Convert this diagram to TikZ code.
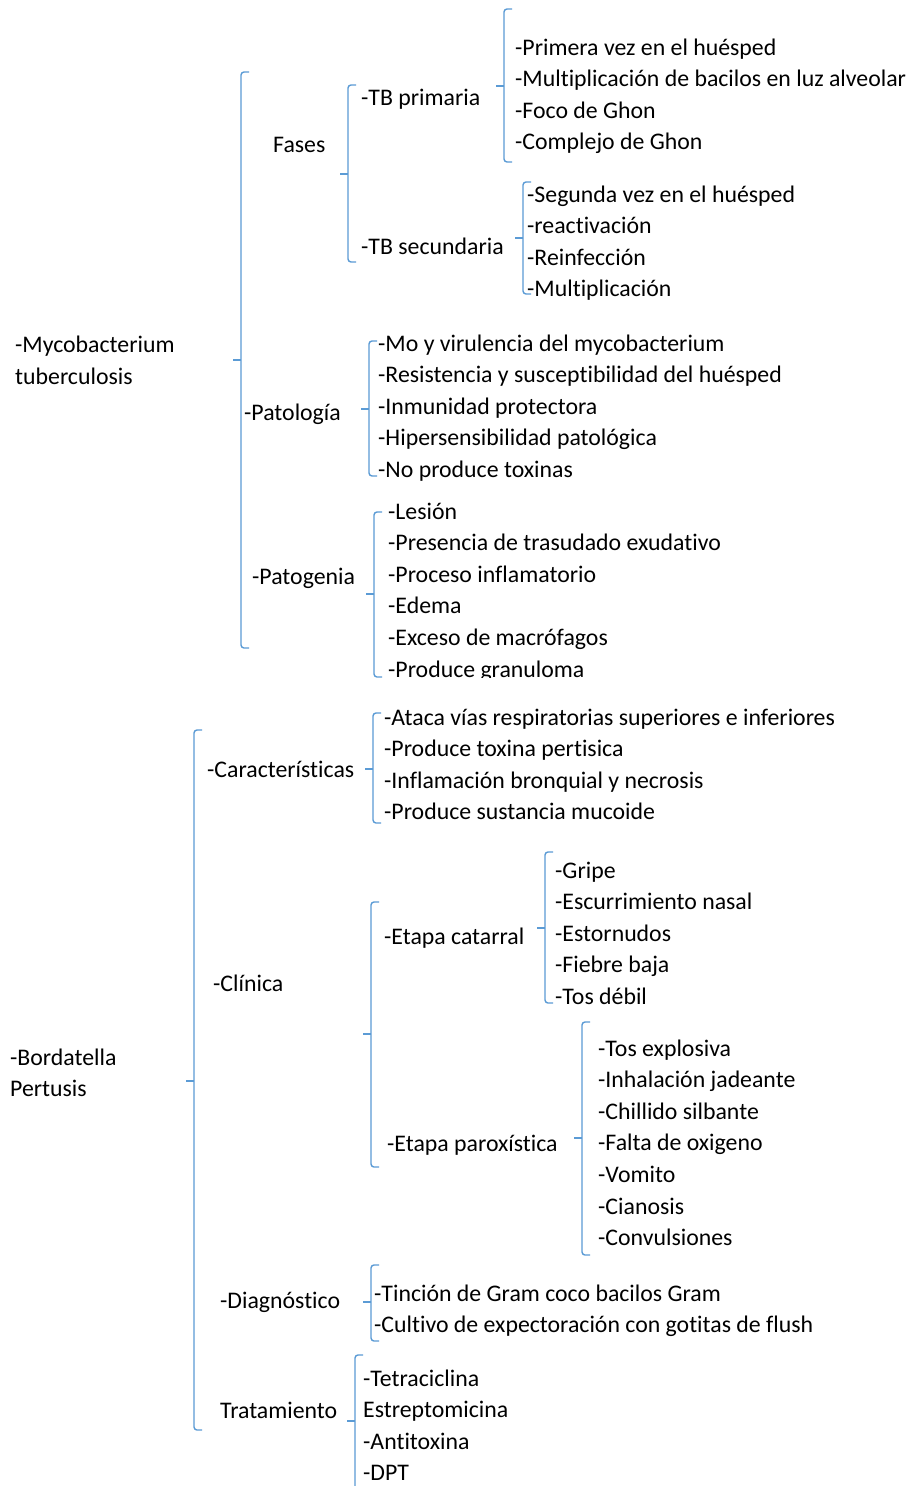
\documentclass[tikz,border=0pt]{standalone}
\usepackage{fontspec}
\setmainfont{Carlito}[Ligatures=NoCommon]
\definecolor{brblue}{HTML}{5B9BD5}
\tikzset{
  txt/.style={anchor=base west,inner sep=0pt,font=\fontsize{23.8}{31.6}\selectfont,text=black},
  br/.style={draw=brblue,line width=1.4pt,rounded corners=3pt},
  tk/.style={draw=brblue,line width=1.4pt},
}
% brace: name, x, top, mid, bottom
\newcommand\wbrace[5]{%
  \coordinate (#1top) at (#2,#3);
  \coordinate (#1mid) at (#2,#4);
  \coordinate (#1bot) at (#2,#5);
  \coordinate (#1tip) at ({#2-8},#4);
  \draw[br] ([xshift=8pt]#1top) -- (#1top) -- (#1bot) -- ([xshift=8pt]#1bot);
  \draw[tk] (#1mid) -- (#1tip);
}
% item list: name, x, first baseline, list
\newcommand\itemlist[4]{%
  \foreach \t [count=\i] in {#4}
    \node[txt] (#1\i) at (#2,{#3+(\i-1)*31.6}) {\t};
}
\begin{document}
\begin{tikzpicture}[x=1pt,y=-1pt]
\clip (0,0) rectangle (911,1486);
\fill[white] (0,0) rectangle (911,1486);

% ---------- Mycobacterium ----------
\node[txt] (myco1) at (15,352) {-Mycobacterium};
\node[txt] (myco2) at (15,384) {tuberculosis};
\wbrace{bA}{241}{72}{360}{648}

\node[txt] (fases) at (273,152) {Fases};
\wbrace{bB}{348}{85}{174}{262}
\node[txt] (tbp) at (361,105) {-TB primaria};
\node[txt] (tbs) at (361,254) {-TB secundaria};

\wbrace{bC}{504}{9}{86}{162}
\itemlist{tp}{515}{55}{-Primera vez en el huésped,-Multiplicación de bacilos en luz alveolar,-Foco de Ghon,-Complejo de Ghon}

\wbrace{bD}{523}{182}{238}{294}
\itemlist{ts}{527}{202}{-Segunda vez en el huésped,-reactivación,-Reinfección,-Multiplicación}

\node[txt] (pato) at (244,420) {-Patología};
\wbrace{bE}{369}{341}{409}{476}
\itemlist{pl}{378}{351}{-Mo y virulencia del mycobacterium,-Resistencia y susceptibilidad del huésped,-Inmunidad protectora,-Hipersensibilidad patológica,-No produce toxinas}

\node[txt] (patog) at (252,584) {-Patogenia};
\wbrace{bF}{374}{512}{594}{677}
\itemlist{pg}{388}{519}{-Lesión,-Presencia de trasudado exudativo,-Proceso inflamatorio,-Edema,-Exceso de macrófagos}
\begin{scope}
  \clip (380,640) rectangle (700,677.5);
  \node[txt] (pg6) at (388,677) {-Produce granuloma};
\end{scope}

% ---------- Bordatella ----------
\node[txt] (bord1) at (10,1065) {-Bordatella};
\node[txt] (bord2) at (10,1096) {Pertusis};
\wbrace{bG}{194}{730}{1081}{1430}

\node[txt] (carac) at (207,777) {-Características};
\wbrace{bH}{373}{713}{769}{823}
\itemlist{ca}{384}{725}{-Ataca vías respiratorias superiores e inferiores,-Produce toxina pertisica,-Inflamación bronquial y necrosis,-Produce sustancia mucoide}

\node[txt] (clin) at (213,991) {-Clínica};
\wbrace{bI}{371}{902}{1034}{1167}

\node[txt] (cat) at (384,944) {-Etapa catarral};
\wbrace{bJ}{545}{852}{928}{1003}
\itemlist{ct}{555}{878}{-Gripe,-Escurrimiento nasal,-Estornudos,-Fiebre baja,-Tos débil}

\node[txt] (parox) at (387,1151) {-Etapa paroxística};
\wbrace{bK}{582}{1022}{1138}{1255}
\itemlist{px}{598}{1056}{-Tos explosiva,-Inhalación jadeante,-Chillido silbante,-Falta de oxigeno,-Vomito,-Cianosis,-Convulsiones}

\node[txt] (diag) at (220,1308) {-Diagnóstico};
\wbrace{bL}{371}{1265}{1302}{1341}
\itemlist{dg}{374}{1301}{-Tinción de Gram coco bacilos Gram,-Cultivo de expectoración con gotitas de flush}

\node[txt] (trat) at (220,1418) {Tratamiento};
\wbrace{bM}{355}{1355}{1421}{1500}
\itemlist{tr}{363}{1386}{-Tetraciclina,Estreptomicina,-Antitoxina,-DPT}
\end{tikzpicture}
\end{document}
